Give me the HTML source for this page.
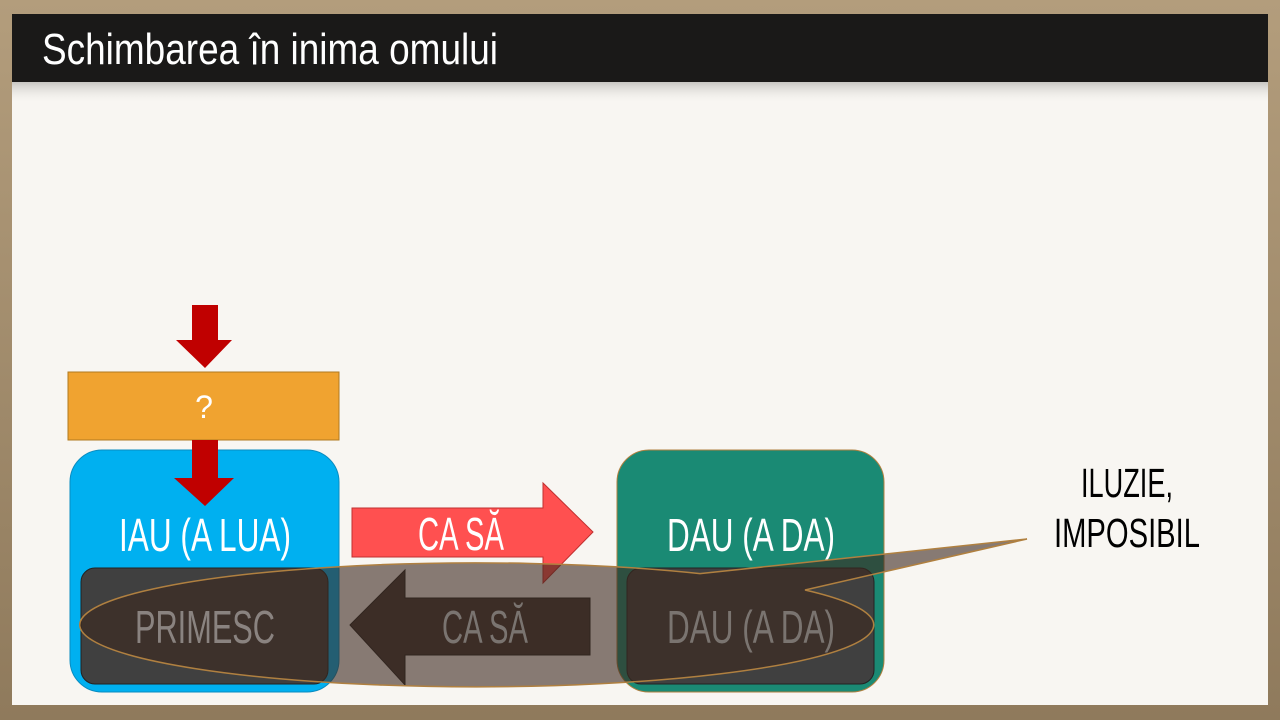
<!DOCTYPE html>
<html><head><meta charset="utf-8"><style>
html,body{margin:0;padding:0;width:1280px;height:720px;overflow:hidden;background:#a89474;}
svg{display:block}
text{font-family:"Liberation Sans Narrow","Liberation Sans",sans-serif;}
</style></head><body>
<svg width="1280" height="720" viewBox="0 0 1280 720">
<defs>
<linearGradient id="bg" x1="0" y1="0" x2="0" y2="1">
<stop offset="0" stop-color="#b39d7c"/><stop offset="1" stop-color="#8f7a5c"/>
</linearGradient>
<linearGradient id="sh" x1="0" y1="0" x2="0" y2="1">
<stop offset="0" stop-color="#c8c6c2"/><stop offset="1" stop-color="#f8f6f2" stop-opacity="0"/>
</linearGradient>
</defs>
<rect width="1280" height="720" fill="url(#bg)"/>
<rect x="12" y="14" width="1256" height="691" fill="#f8f6f2"/>
<rect x="12" y="82" width="1256" height="22" fill="url(#sh)"/>
<rect x="12" y="14" width="1256" height="68" fill="#1a1918"/>
<text x="42" y="64" font-size="44" fill="#fff" textLength="456" lengthAdjust="spacingAndGlyphs">Schimbarea în inima omului</text>

<polygon points="192,305 218,305 218,340 232,340 205,368 176,340 192,340" fill="#c00000"/>
<rect x="68" y="372" width="271" height="68" fill="#f0a330" stroke="#b07a20"/>
<text x="204" y="418" font-size="32" fill="#fff" text-anchor="middle">?</text>

<rect x="70" y="450" width="269" height="242" rx="32" fill="#00b0f0" stroke="#0a8cc0"/>
<polygon points="192,440 218,440 218,478 234,478 205,506 174,478 192,478" fill="#c00000"/>
<text x="205" y="551" font-size="46" fill="#fff" text-anchor="middle" textLength="172" lengthAdjust="spacingAndGlyphs">IAU (A LUA)</text>

<rect x="617" y="450" width="267" height="242" rx="32" fill="#1a8a74" stroke="#b08040"/>
<text x="751" y="551" font-size="46" fill="#fff" text-anchor="middle" textLength="168" lengthAdjust="spacingAndGlyphs">DAU (A DA)</text>

<polygon points="352,508 543,508 543,483 593,532 543,583 543,557 352,557" fill="#ff5050" stroke="#c03030"/>
<text x="461" y="550" font-size="46" fill="#fff" text-anchor="middle" textLength="86" lengthAdjust="spacingAndGlyphs">CA SĂ</text>

<rect x="81" y="568" width="247" height="116" rx="14" fill="#404040" stroke="#222"/>
<rect x="627" y="568" width="247" height="116" rx="14" fill="#404040" stroke="#222"/>

<polygon points="350,625 405,570 405,598 590,598 590,655 405,655 405,685" fill="#3e3633" stroke="#222"/>

<path d="M700,573.6 L1027,539 L805,590 A397,62 0 1 1 700,573.6 Z" fill="rgba(60,40,30,0.6)" stroke="#b08040" stroke-width="1.5"/>

<text x="205" y="643" font-size="46" fill="#8a8380" text-anchor="middle" textLength="140" lengthAdjust="spacingAndGlyphs">PRIMESC</text>
<text x="485" y="643" font-size="46" fill="#7a7470" text-anchor="middle" textLength="86" lengthAdjust="spacingAndGlyphs">CA SĂ</text>
<text x="751" y="643" font-size="46" fill="#7a7470" text-anchor="middle" textLength="168" lengthAdjust="spacingAndGlyphs">DAU (A DA)</text>

<text x="1127" y="497" font-size="41" fill="#000" text-anchor="middle" textLength="92" lengthAdjust="spacingAndGlyphs">ILUZIE,</text>
<text x="1127" y="547" font-size="41" fill="#000" text-anchor="middle" textLength="146" lengthAdjust="spacingAndGlyphs">IMPOSIBIL</text>
</svg>
</body></html>
